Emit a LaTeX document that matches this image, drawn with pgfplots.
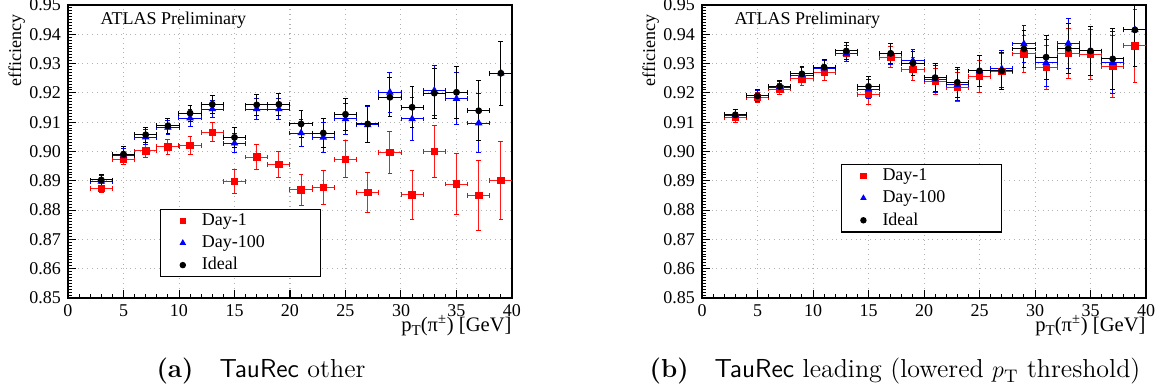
\documentclass[border=0pt]{standalone}
\usepackage{fontspec}
\usepackage{pgfplots}
\pgfplotsset{compat=1.18}
\usepackage{pgfplotstable}
\newfontfamily\timesfont{Liberation Serif}

\pgfplotstableread{
x r re b be k ke
3 0.8875 0.0015 0.8898 0.0020 0.8903 0.0020
5 0.8974 0.0020 0.8985 0.0024 0.8991 0.0025
7 0.9002 0.0023 0.9049 0.0025 0.9057 0.0025
9 0.9016 0.0025 0.9082 0.0025 0.9088 0.0026
11 0.9020 0.0030 0.9114 0.0028 0.9131 0.0027
13 0.9066 0.0032 0.9145 0.0030 0.9161 0.0030
15 0.8898 0.0040 0.9028 0.0033 0.9048 0.0034
17 0.8981 0.0042 0.9145 0.0035 0.9159 0.0035
19 0.8955 0.0045 0.9145 0.0037 0.9161 0.0037
21 0.8869 0.0052 0.9063 0.0045 0.9094 0.0045
23 0.8878 0.0058 0.9048 0.0050 0.9063 0.0050
25 0.8974 0.0062 0.9111 0.0054 0.9127 0.0054
27 0.8861 0.0068 0.9091 0.0062 0.9094 0.0063
29 0.8997 0.0072 0.9202 0.0068 0.9185 0.0066
31 0.8852 0.0083 0.9111 0.0074 0.9151 0.0070
33 0.9000 0.0090 0.9208 0.0085 0.9199 0.0085
35 0.8889 0.0104 0.9180 0.0088 0.9202 0.0088
37 0.8850 0.0118 0.9097 0.0100 0.9139 0.0102
39 0.8901 0.0134 0.9267 0.0110 0.9267 0.0110
}\leftdata

\pgfplotstableread{
x r re b be k ke
3 0.9116 0.0018 0.9124 0.0019 0.9125 0.0020
5 0.9185 0.0018 0.9190 0.0019 0.9190 0.0020
7 0.9213 0.0020 0.9220 0.0020 0.9222 0.0021
9 0.9248 0.0023 0.9261 0.0024 0.9265 0.0024
11 0.9269 0.0025 0.9284 0.0025 0.9288 0.0025
13 0.9335 0.0028 0.9335 0.0028 0.9343 0.0028
15 0.9195 0.0033 0.9213 0.0033 0.9222 0.0033
17 0.9322 0.0035 0.9333 0.0035 0.9335 0.0035
19 0.9281 0.0040 0.9309 0.0040 0.9301 0.0040
21 0.9239 0.0045 0.9247 0.0046 0.9252 0.0047
23 0.9219 0.0050 0.9227 0.0052 0.9236 0.0052
25 0.9256 0.0053 0.9275 0.0053 0.9275 0.0053
27 0.9273 0.0062 0.9282 0.0062 0.9275 0.0062
29 0.9333 0.0063 0.9367 0.0063 0.9350 0.0063
31 0.9288 0.0075 0.9303 0.0080 0.9322 0.0075
33 0.9335 0.0085 0.9369 0.0085 0.9352 0.0085
35 0.9332 0.0085 0.9343 0.0085 0.9343 0.0085
37 0.9290 0.0105 0.9303 0.0105 0.9316 0.0105
39 0.9361 0.0125 0.9415 0.0125 0.9415 0.0125
}\rightdata

\pgfplotsset{
  atlas/.style={
    scale only axis, width=222pt, height=146.5pt,
    anchor=south west,
    xmin=0, xmax=40, ymin=0.85, ymax=0.95,
    xtick={0,5,10,15,20,25,30,35,40},
    ytick={0.85,0.86,0.87,0.88,0.89,0.90,0.91,0.92,0.93,0.94,0.95},
    minor x tick num=4, minor y tick num=9,
    tick align=inside, xtick pos=bottom, ytick pos=left,
    major tick length=4pt, minor tick length=2pt,
    every tick/.style={black, line width=0.5pt},
    xmajorgrids, ymajorgrids,
    major grid style={gray!60, dotted, line width=0.5pt},
    axis line style={line width=0.6pt},
    tick label style={font=\timesfont\fontsize{9}{10}\selectfont},
    xticklabel style={inner ysep=1pt, yshift=-2pt},
    /pgf/number format/assume math mode=true,
    yticklabel style={/pgf/number format/fixed, /pgf/number format/fixed zerofill, /pgf/number format/precision=2},
    scaled y ticks=false,
    xlabel={p\raisebox{-0.5ex}{\fontsize{7.5}{8}\selectfont T}(π\textsuperscript{±}) [GeV]},
    xlabel style={font=\timesfont\fontsize{10.3}{12}\selectfont, inner sep=0pt, at={(rel axis cs:1,-0.113)}, anchor=base east},
    ylabel={efficiency},
    ylabel style={font=\timesfont\fontsize{9}{10}\selectfont, at={(rel axis cs:-0.081,0.99)}, anchor=south east},
    legend cell align=left,
    legend style={draw=black, line width=0.6pt, fill=white,
      font=\timesfont\fontsize{9}{10}\selectfont,
      inner xsep=2.5pt, inner ysep=1pt, row sep=1.5pt,
      nodes={inner sep=1pt},
      /tikz/every even column/.append style={text width=56pt}},
  },
  legmark/.style={legend image code/.code={%
      \path[draw=none, fill=none] (0cm,-0.1cm) rectangle (0.6cm,0.1cm);
      \draw[##1, mark size=1.3pt] plot coordinates {(0.3cm,0cm)};}},
  redp/.style={only marks, mark=square*, red, mark size=1.6pt, legmark,
    error bars/.cd, x dir=both, x fixed=1, y dir=both, y explicit,
    error bar style={line width=0.5pt, red!90!white},
    error mark options={red, mark size=1.2pt, line width=0.5pt, rotate=90}},
  bluep/.style={only marks, mark=triangle*, blue, mark size=1.8pt, legmark,
    error bars/.cd, x dir=both, x fixed=1, y dir=both, y explicit,
    error bar style={line width=0.5pt, blue},
    error mark options={blue, mark size=1.2pt, line width=0.5pt, rotate=90}},
  blackp/.style={only marks, mark=*, black, mark size=1.5pt, legmark,
    error bars/.cd, x dir=both, x fixed=1, y dir=both, y explicit,
    error bar style={line width=0.5pt, black},
    error mark options={black, mark size=1.2pt, line width=0.5pt, rotate=90}},
}

\begin{document}
\begin{tikzpicture}
\useasboundingbox (0,0) rectangle (583.5pt,195pt);

\begin{axis}[atlas, at={(34pt,46pt)},
  legend style={at={(axis cs:8.3,0.8804)}, anchor=north west}]
\addplot[redp] table[x=x, y=r, y error=re] {\leftdata};
\addlegendentry{Day-1}
\addplot[bluep] table[x=x, y=b, y error=be] {\leftdata};
\addlegendentry{Day-100}
\addplot[blackp] table[x=x, y=k, y error=ke] {\leftdata};
\addlegendentry{Ideal}
\node[anchor=north west, inner sep=0pt, font=\timesfont\fontsize{9}{10}\selectfont] at (axis cs:2.9,0.9476) {ATLAS Preliminary};
\end{axis}

\begin{axis}[atlas, at={(351pt,46pt)},
  legend style={at={(axis cs:12.5,0.8957)}, anchor=north west}]
\addplot[redp] table[x=x, y=r, y error=re] {\rightdata};
\addlegendentry{Day-1}
\addplot[bluep] table[x=x, y=b, y error=be] {\rightdata};
\addlegendentry{Day-100}
\addplot[blackp] table[x=x, y=k, y error=ke] {\rightdata};
\addlegendentry{Ideal}
\node[anchor=north west, inner sep=0pt, font=\timesfont\fontsize{9}{10}\selectfont] at (axis cs:2.9,0.9476) {ATLAS Preliminary};
\end{axis}

\node[anchor=base, inner sep=0pt, font=\fontsize{13}{15}\selectfont] at (130.5pt,6pt) {\textbf{(a)}\quad\textsf{TauRec} other};
\node[anchor=base, inner sep=0pt, font=\fontsize{13}{15}\selectfont] at (447.5pt,6pt) {\textbf{(b)}\quad\textsf{TauRec} leading (lowered $p_{\mathrm{T}}$ threshold)};
\end{tikzpicture}
\end{document}
